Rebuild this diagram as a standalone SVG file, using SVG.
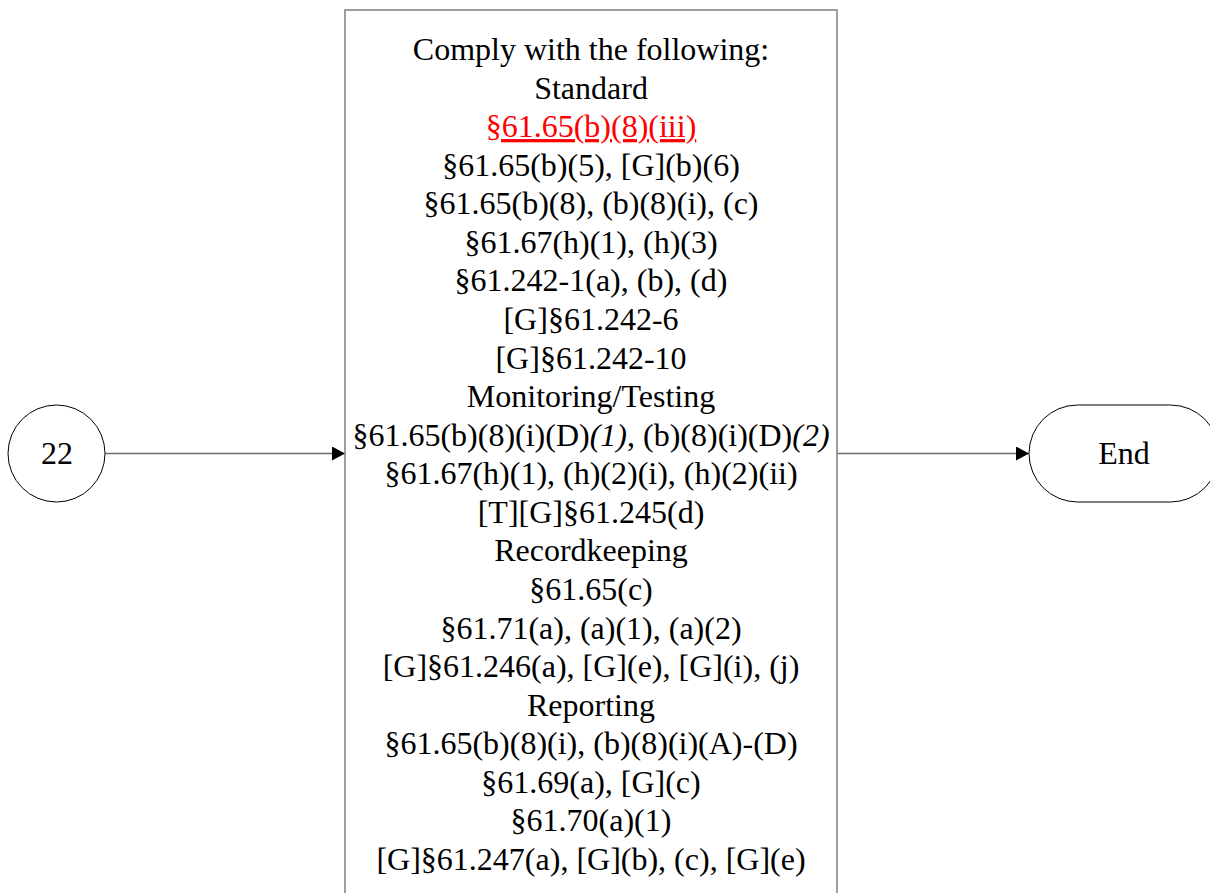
<svg xmlns="http://www.w3.org/2000/svg" width="1210" height="893" viewBox="0 0 1210 893">
<style>
.t{font-family:"Liberation Serif","Times New Roman",serif;font-size:32px;fill:#000;text-anchor:middle}
.shape{fill:#fff;stroke:#000;stroke-width:1}
.box{fill:#fff;stroke:#7f7f7f;stroke-width:1.5}
.conn{stroke:#6e6e6e;stroke-width:1.5;fill:none}
.red{fill:#ff0000;text-decoration:underline}
</style>
<defs>
<marker id="arr" markerWidth="14" markerHeight="14" refX="13" refY="7" orient="auto" markerUnits="userSpaceOnUse">
<path d="M0,0 L13,7 L0,14 Z" fill="#000"/>
</marker>
</defs>
<rect width="1210" height="893" fill="#fff"/>
<g id="connectors">
<line class="conn" x1="105" y1="453.5" x2="345" y2="453.5" marker-end="url(#arr)"/>
<line class="conn" x1="837" y1="453.5" x2="1029" y2="453.5" marker-end="url(#arr)"/>
</g>
<g id="node22">
<circle class="shape" cx="56.5" cy="453.5" r="48.5"/>
<text class="t" x="57" y="464">22</text>
</g>
<g id="nodeBox">
<rect class="box" x="345" y="10" width="492" height="900"/>
<text class="t" x="591" y="60">Comply with the following:</text>
<text class="t" x="591" y="98.6">Standard</text>
<text class="t red" x="591" y="137.1">§61.65(b)(8)(iii)</text>
<text class="t" x="591" y="175.7">§61.65(b)(5), [G](b)(6)</text>
<text class="t" x="591" y="214.3">§61.65(b)(8), (b)(8)(i), (c)</text>
<text class="t" x="591" y="252.9">§61.67(h)(1), (h)(3)</text>
<text class="t" x="591" y="291.4">§61.242-1(a), (b), (d)</text>
<text class="t" x="591" y="330">[G]§61.242-6</text>
<text class="t" x="591" y="368.6">[G]§61.242-10</text>
<text class="t" x="591" y="407.1">Monitoring/Testing</text>
<text class="t" x="591" y="445.7">§61.65(b)(8)(i)(D)<tspan font-style="italic">(1)</tspan>, (b)(8)(i)(D)<tspan font-style="italic">(2)</tspan></text>
<text class="t" x="591" y="484.3">§61.67(h)(1), (h)(2)(i), (h)(2)(ii)</text>
<text class="t" x="591" y="522.9">[T][G]§61.245(d)</text>
<text class="t" x="591" y="561.4">Recordkeeping</text>
<text class="t" x="591" y="600">§61.65(c)</text>
<text class="t" x="591" y="638.6">§61.71(a), (a)(1), (a)(2)</text>
<text class="t" x="591" y="677.1">[G]§61.246(a), [G](e), [G](i), (j)</text>
<text class="t" x="591" y="715.7">Reporting</text>
<text class="t" x="591" y="754.3">§61.65(b)(8)(i), (b)(8)(i)(A)-(D)</text>
<text class="t" x="591" y="792.9">§61.69(a), [G](c)</text>
<text class="t" x="591" y="831.4">§61.70(a)(1)</text>
<text class="t" x="591" y="870">[G]§61.247(a), [G](b), (c), [G](e)</text>
</g>
<g id="nodeEnd">
<rect class="shape" x="1029" y="405" width="190" height="97" rx="48.5" ry="48.5"/>
<text class="t" x="1124" y="464">End</text>
</g>
</svg>
